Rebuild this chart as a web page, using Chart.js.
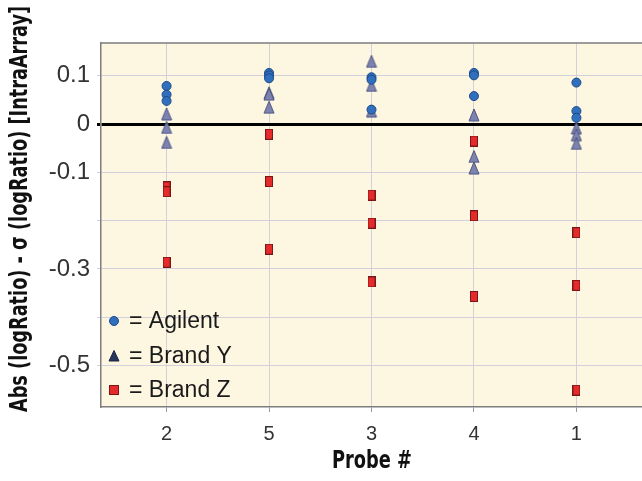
<!DOCTYPE html>
<html>
<head>
<meta charset="utf-8">
<script src="https://cdn.jsdelivr.net/npm/chart.js@4.4.1/dist/chart.umd.min.js"></script>
<style>
  html, body { margin: 0; padding: 0; background: #ffffff; }
  #wrap { width: 642px; height: 481px; }
</style>
</head>
<body>
<div id="wrap"><canvas id="c" width="642" height="481"></canvas></div>
<script>
// Probe order along the x axis
const probes = ['2', '5', '3', '4', '1'];

// Three replicate values per probe for each platform
const agilent = [
  [0.079, 0.061, 0.048],
  [0.106, 0.101, 0.095],
  [0.097, 0.092, 0.030],
  [0.106, 0.101, 0.058],
  [0.086, 0.027, 0.013]
];
const brandY = [
  [0.021, -0.007, -0.038],
  [0.065, 0.062, 0.035],
  [0.130, 0.080, 0.027],
  [0.019, -0.067, -0.091],
  [-0.008, -0.022, -0.040]
];
const brandZ = [
  [-0.130, -0.140, -0.286],
  [-0.021, -0.119, -0.259],
  [-0.147, -0.205, -0.327],
  [-0.035, -0.190, -0.357],
  [-0.225, -0.334, -0.551]
];

// Y tick values that carry a printed label
const yTickLabels = ['0.1', '0', '-0.1', '-0.3', '-0.5'];

const seriesNames = ['Agilent', 'Brand Y', 'Brand Z'];

function toPoints(rows) {
  const pts = [];
  rows.forEach((reps, i) => reps.forEach(v => pts.push({ x: i, y: v })));
  return pts;
}

// Marker sprites
function triangleSprite(w, h, fill, stroke) {
  const c = document.createElement('canvas');
  c.width = w + 2; c.height = h + 2;
  const g = c.getContext('2d');
  g.beginPath();
  g.moveTo(c.width / 2, 1);
  g.lineTo(c.width - 1, c.height - 1);
  g.lineTo(1, c.height - 1);
  g.closePath();
  g.fillStyle = fill; g.fill();
  g.strokeStyle = stroke; g.lineWidth = 1; g.stroke();
  return c;
}
function rectSprite(w, h, fill, stroke) {
  const c = document.createElement('canvas');
  c.width = w; c.height = h;
  const g = c.getContext('2d');
  g.fillStyle = fill; g.fillRect(0, 0, w, h);
  g.strokeStyle = stroke; g.lineWidth = 1; g.strokeRect(0.5, 0.5, w - 1, h - 1);
  return c;
}

const triData = triangleSprite(10, 12, '#7d83ae', '#4b5381');
const rectData = rectSprite(8, 11, '#e42a2a', '#7a1616');

const CREAM = '#fdf6e1';
const TITLE_FONT = '"Liberation Sans Narrow", "DejaVu Sans Condensed", sans-serif';

// Draws a bold condensed caption squeezed to a given width
function condensedText(ctx, text, cx, cy, size, width, angle) {
  ctx.save();
  ctx.translate(cx, cy);
  ctx.rotate(angle);
  ctx.font = 'bold ' + size + 'px ' + TITLE_FONT;
  ctx.textAlign = 'center';
  ctx.textBaseline = 'middle';
  const w = ctx.measureText(text).width;
  ctx.scale(Math.min(1, width / w), 1);
  ctx.fillStyle = '#111111';
  ctx.fillText(text, 0, 0);
  ctx.restore();
}

const panelPlugin = {
  id: 'panel',
  beforeDraw(chart) {
    const { ctx, chartArea: a } = chart;
    ctx.save();
    ctx.fillStyle = CREAM;
    ctx.fillRect(a.left, a.top, chart.width - a.left, a.bottom - a.top);
    ctx.restore();
  },
  afterDraw(chart) {
    const { ctx, chartArea: a } = chart;
    ctx.save();
    ctx.strokeStyle = '#7d7d7d';
    ctx.lineWidth = 1.5;
    ctx.beginPath();
    ctx.moveTo(a.left, a.top);
    ctx.lineTo(chart.width, a.top);
    ctx.stroke();
    ctx.restore();

    condensedText(ctx, 'Abs (logRatio) - \u03c3 (logRatio) [IntraArray]', 21, 209, 24, 406, -Math.PI / 2);
    condensedText(ctx, 'Probe #', 372, 461, 25, 80, 0);

    // key in the lower-left of the plot
    ctx.save();
    const rows = [321, 356, 390];
    const sx = 114;
    ctx.lineWidth = 1;
    ctx.beginPath();
    ctx.arc(sx, rows[0], 4.5, 0, Math.PI * 2);
    ctx.fillStyle = '#2f6fbd'; ctx.fill();
    ctx.strokeStyle = '#1d4a85'; ctx.stroke();
    ctx.beginPath();
    ctx.moveTo(sx, rows[1] - 5.5);
    ctx.lineTo(sx + 5, rows[1] + 5);
    ctx.lineTo(sx - 5, rows[1] + 5);
    ctx.closePath();
    ctx.fillStyle = '#27365f'; ctx.fill();
    ctx.strokeStyle = '#1b2545'; ctx.stroke();
    ctx.fillStyle = '#e42a2a';
    ctx.fillRect(sx - 5, rows[2] - 5, 10, 10);
    ctx.strokeStyle = '#7a1616';
    ctx.strokeRect(sx - 4.5, rows[2] - 4.5, 9, 9);
    ctx.fillStyle = '#1a1a1a';
    ctx.font = '23px "Liberation Sans", Arial, sans-serif';
    ctx.textAlign = 'left';
    ctx.textBaseline = 'middle';
    seriesNames.forEach((n, i) => ctx.fillText('= ' + n, 129, rows[i] + 1));
    ctx.restore();
  }
};

const gridColor = '#d3d0dc';

new Chart(document.getElementById('c'), {
  type: 'scatter',
  data: {
    datasets: [
      {
        label: seriesNames[0],
        data: toPoints(agilent),
        pointStyle: 'circle',
        pointRadius: 4.5,
        pointHoverRadius: 4.5,
        backgroundColor: '#2f6fbd',
        borderColor: '#1d4a85',
        borderWidth: 1
      },
      {
        label: seriesNames[1],
        data: toPoints(brandY),
        pointStyle: triData,
        pointRadius: 5,
        backgroundColor: '#7d83ae',
        borderColor: '#4b5381'
      },
      {
        label: seriesNames[2],
        data: toPoints(brandZ),
        pointStyle: rectData,
        pointRadius: 5,
        backgroundColor: '#e42a2a',
        borderColor: '#7a1616'
      }
    ]
  },
  options: {
    responsive: false,
    devicePixelRatio: 1,
    animation: false,
    events: [],
    layout: { autoPadding: false, padding: { top: 43, right: 0, left: 0, bottom: 0 } },
    plugins: {
      legend: { display: false },
      tooltip: { enabled: false }
    },
    scales: {
      x: {
        type: 'linear',
        min: -0.64,
        max: 4.64,
        afterFit(s) { s.height = 74; s.paddingLeft = 0; s.paddingRight = 0; },
        afterBuildTicks(s) {
          s.ticks = probes.map((_, i) => ({ value: i }));
        },
        ticks: {
          autoSkip: false,
          maxRotation: 0,
          padding: 10,
          color: '#333333',
          font: { family: '"Liberation Sans", Arial, sans-serif', size: 20 },
          callback: (v) => probes[v]
        },
        grid: { color: gridColor, lineWidth: 1, tickLength: 5, tickColor: '#9a9a9a' },
        border: { color: '#7d7d7d', width: 1.5 }
      },
      y: {
        min: -0.586,
        max: 0.168,
        afterFit(s) { s.width = 101; s.paddingTop = 0; s.paddingBottom = 0; },
        ticks: {
          stepSize: 0.1,
          includeBounds: false,
          padding: 7,
          color: '#333333',
          font: { family: '"Liberation Sans", Arial, sans-serif', size: 24 },
          callback: (v) => {
            const t = String(Math.round(v * 10) / 10);
            return yTickLabels.includes(t) ? t : '';
          }
        },
        grid: {
          tickLength: 4,
          color: (c) => (c.tick && Math.abs(c.tick.value) < 1e-9 ? '#000000' : gridColor),
          lineWidth: (c) => (c.tick && Math.abs(c.tick.value) < 1e-9 ? 3 : 1)
        },
        border: { color: '#7d7d7d', width: 1.5 }
      }
    }
  },
  plugins: [panelPlugin]
});
</script>
</body>
</html>
